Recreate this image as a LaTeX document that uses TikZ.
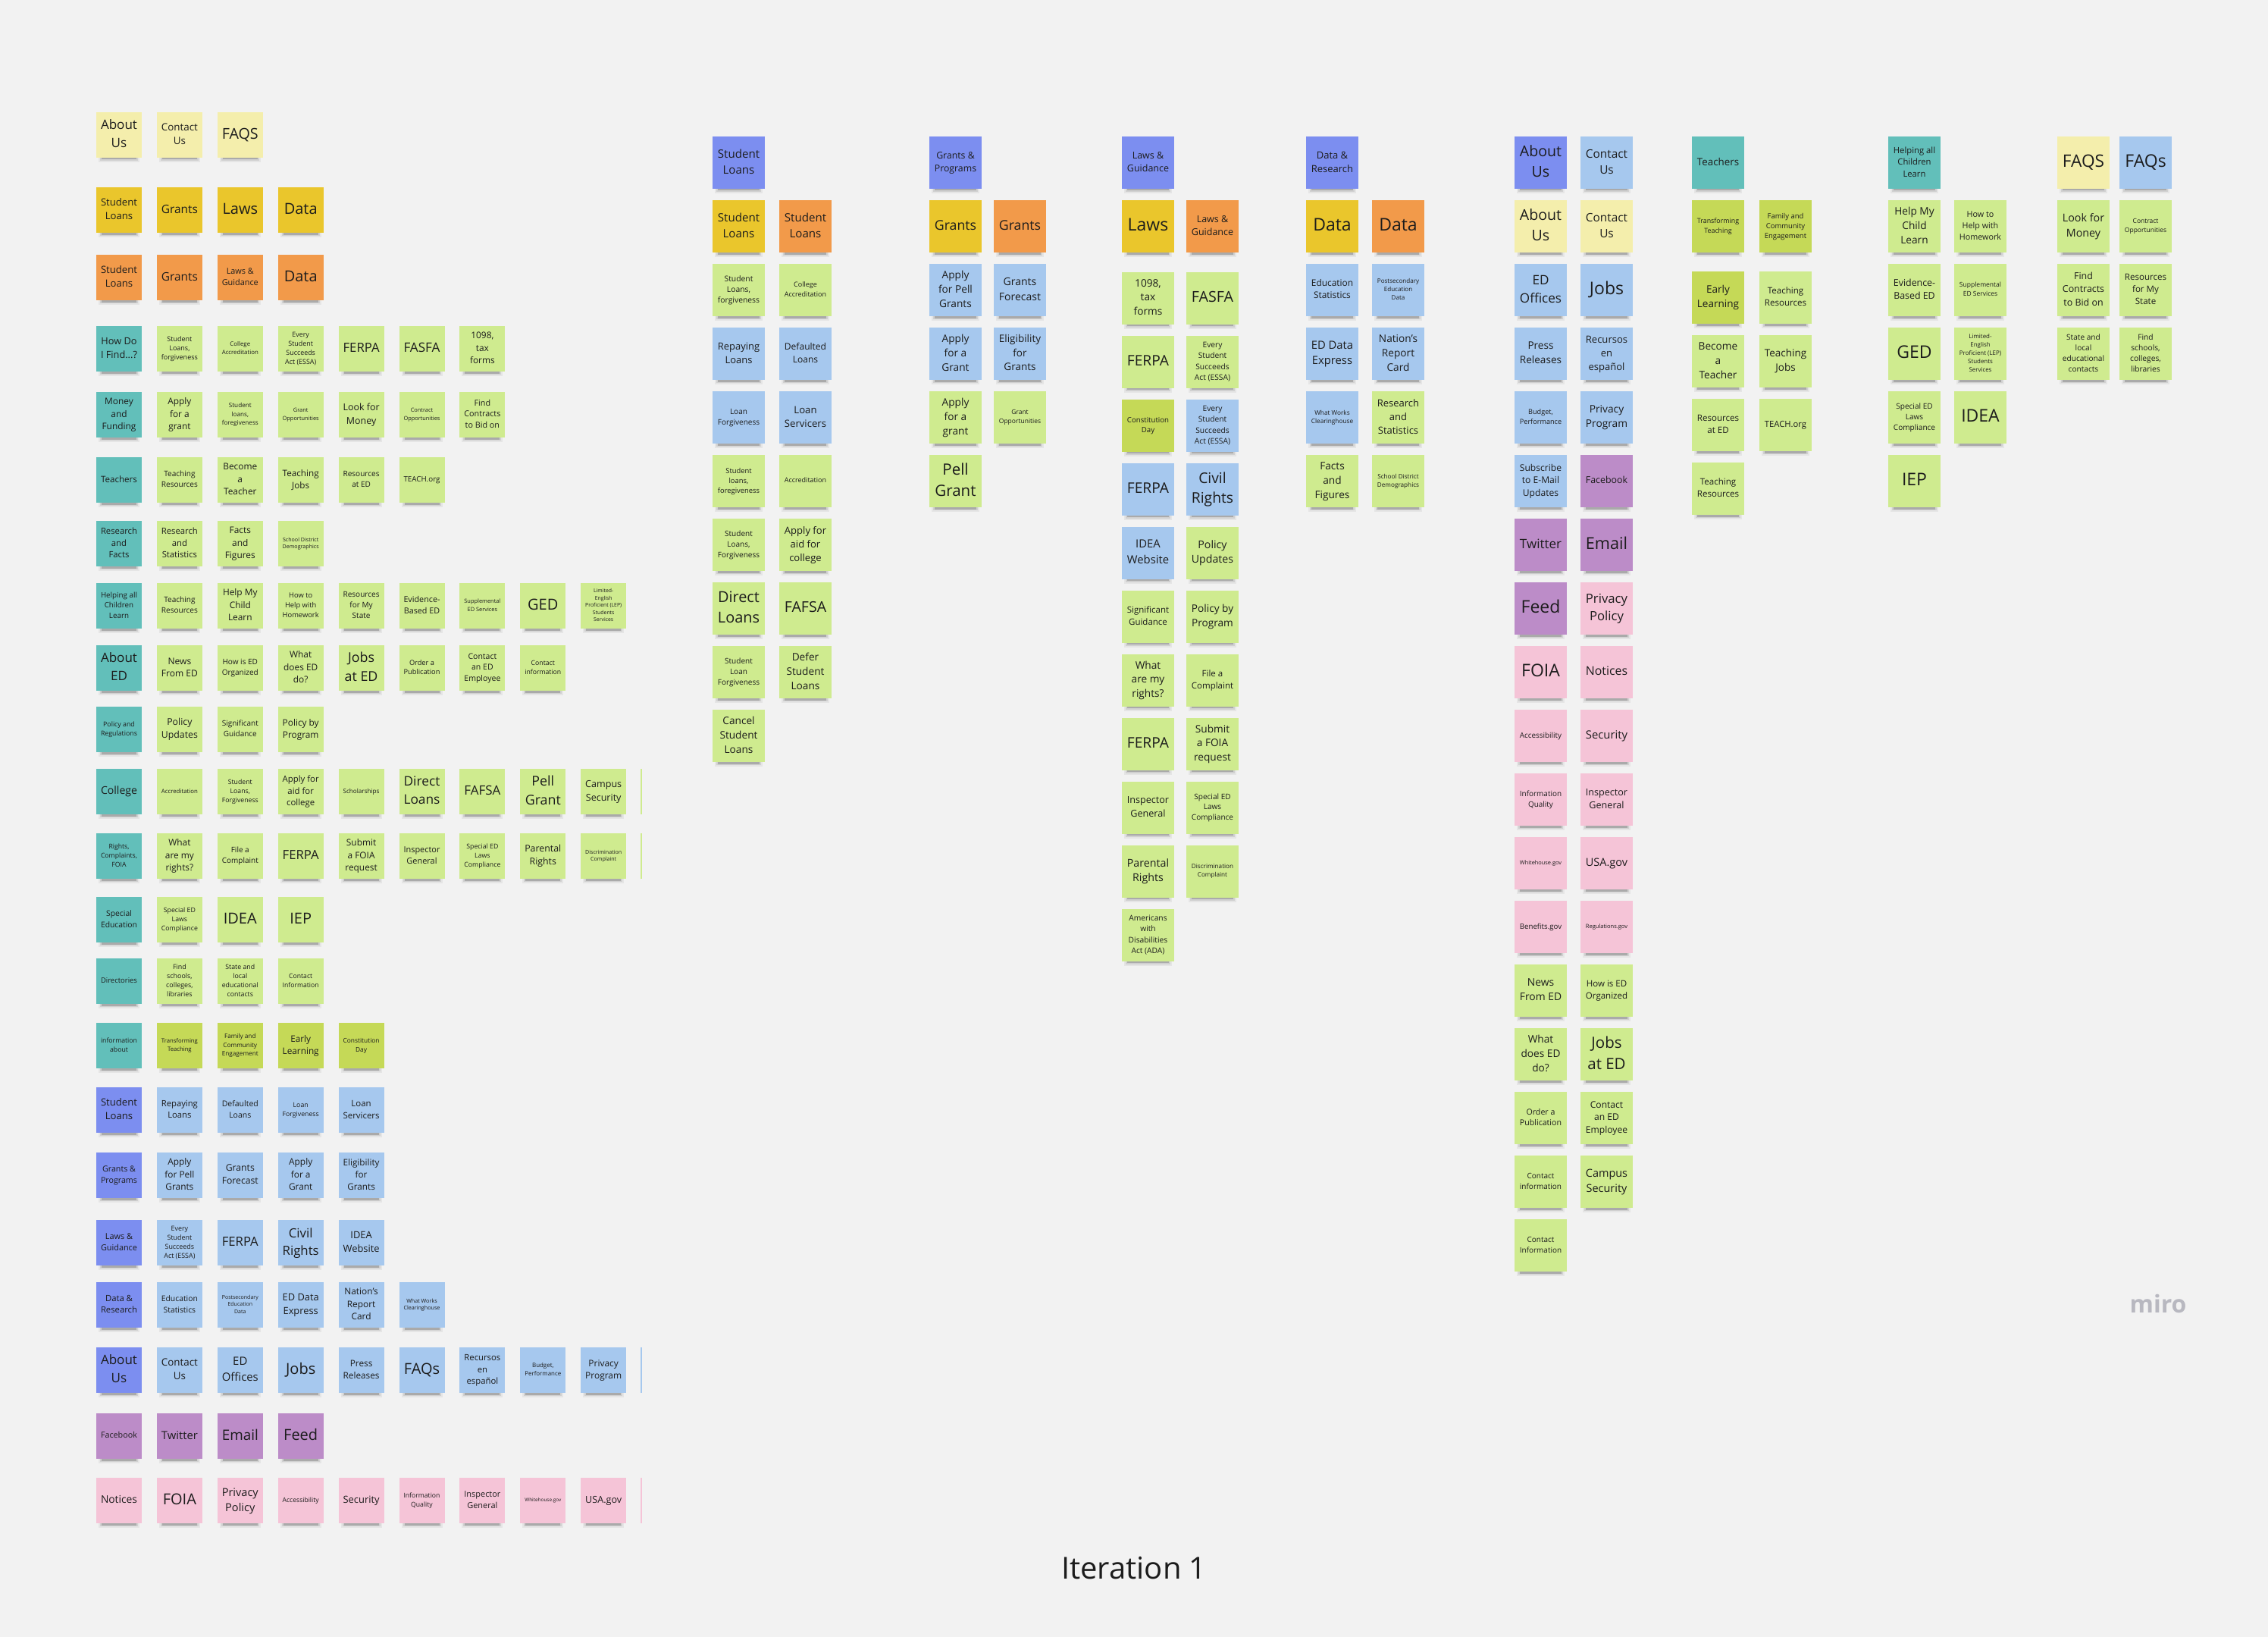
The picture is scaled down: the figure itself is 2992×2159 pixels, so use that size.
\documentclass[tikz,border=0pt]{standalone}
\usepackage{fontspec}
\setmainfont{Open Sans}
\usepackage{graphicx}
\definecolor{bgc}{HTML}{F2F2F2}
\definecolor{LY}{HTML}{F4EEAC}
\definecolor{GO}{HTML}{EAC62C}
\definecolor{OR}{HTML}{F29A4A}
\definecolor{TE}{HTML}{62BFBA}
\definecolor{LG}{HTML}{CFEB8F}
\definecolor{YG}{HTML}{C5D957}
\definecolor{LB}{HTML}{A6C8EE}
\definecolor{BP}{HTML}{7C8EF0}
\definecolor{PU}{HTML}{BC8CC8}
\definecolor{PK}{HTML}{F5C4D7}
\definecolor{ink}{HTML}{1C1C1C}
\definecolor{mirogray}{HTML}{B8B8C0}
\tikzset{
  stickbox/.style={rectangle, inner sep=0pt, outer sep=0pt, draw=none, text=ink},
  shadowA/.style={black, opacity=0.05},
  shadowB/.style={black, opacity=0.09},
  shadowC/.style={black, opacity=0.18},
  edgeline/.style={line width=2pt},
  captiontext/.style={text=ink, font=\fontsize{40pt}{48pt}\selectfont},
  logotext/.style={text=mirogray, font=\bfseries\fontsize{32pt}{38pt}\selectfont}
}
\newsavebox\stbox
\newlength\stw
\newlength\sth
\newcounter{stn}
% fitted text: size, text
\newcommand\stfit[2]{%
  \sbox\stbox{\fontsize{10pt}{13.8pt}\selectfont\begin{tabular}{@{}c@{}}#2\end{tabular}}%
  \setlength\stw{\wd\stbox}\ifdim\stw<1pt\setlength\stw{1pt}\fi
  \setlength\sth{\ht\stbox}\addtolength\sth{\dp\stbox}\ifdim\sth<1pt\setlength\sth{1pt}\fi
  \pgfmathsetmacro\stscale{min(0.8*#1/\stw, 0.82*#1/\sth, #1/30)}%
  \raisebox{1.5pt}{\scalebox{\stscale}{\usebox\stbox}}%
}
% x(left) y(top) size colour text
\newcommand\stick[5]{%
  \stepcounter{stn}%
  \fill[shadowA] ({#1+3},{#2+#3-4}) rectangle ({#1+#3-3},{#2+#3+6});
  \fill[shadowB] ({#1+5},{#2+#3-3}) rectangle ({#1+#3-5},{#2+#3+4});
  \fill[shadowC] ({#1+7},{#2+#3-2}) rectangle ({#1+#3-7},{#2+#3+2.5});
  \node[stickbox, fill=#4, minimum width=#3pt, minimum height=#3pt] (s\thestn) at ({#1+#3/2},{#2+#3/2}) {\stfit{#3}{#5}};
}
\newcommand\leftnote[4]{\stick{127+79.9*#1}{#2}{60}{#3}{#4}}
\newcommand\groupnote[4]{\stick{#1}{#2}{69}{#3}{#4}}
\begin{document}
\begin{tikzpicture}[x=1pt,y=-1pt]
\useasboundingbox (0,0) rectangle (2992,2159);
\fill[bgc] (0,0) rectangle (2992,2159);

% ================= left grid =================
\leftnote{0}{148}{LY}{About\\Us}
\leftnote{1}{148}{LY}{Contact\\Us}
\leftnote{2}{148}{LY}{FAQS}

\leftnote{0}{247}{GO}{Student\\Loans}
\leftnote{1}{247}{GO}{Grants}
\leftnote{2}{247}{GO}{Laws}
\leftnote{3}{247}{GO}{Data}

\leftnote{0}{336}{OR}{Student\\Loans}
\leftnote{1}{336}{OR}{Grants}
\leftnote{2}{336}{OR}{Laws \&\\Guidance}
\leftnote{3}{336}{OR}{Data}

\leftnote{0}{430}{TE}{How Do\\I Find...?}
\leftnote{1}{430}{LG}{Student\\Loans,\\forgiveness}
\leftnote{2}{430}{LG}{College\\Accreditation}
\leftnote{3}{430}{LG}{Every\\Student\\Succeeds\\Act (ESSA)}
\leftnote{4}{430}{LG}{FERPA}
\leftnote{5}{430}{LG}{FASFA}
\leftnote{6}{430}{LG}{1098,\\tax\\forms}

\leftnote{0}{517}{TE}{Money\\and\\Funding}
\leftnote{1}{517}{LG}{Apply\\for a\\grant}
\leftnote{2}{517}{LG}{Student\\loans,\\foregiveness}
\leftnote{3}{517}{LG}{Grant\\Opportunities}
\leftnote{4}{517}{LG}{Look for\\Money}
\leftnote{5}{517}{LG}{Contract\\Opportunities}
\leftnote{6}{517}{LG}{Find\\Contracts\\to Bid on}

\leftnote{0}{603}{TE}{Teachers}
\leftnote{1}{603}{LG}{Teaching\\Resources}
\leftnote{2}{603}{LG}{Become\\a\\Teacher}
\leftnote{3}{603}{LG}{Teaching\\Jobs}
\leftnote{4}{603}{LG}{Resources\\at ED}
\leftnote{5}{603}{LG}{TEACH.org}

\leftnote{0}{687}{TE}{Research\\and\\Facts}
\leftnote{1}{687}{LG}{Research\\and\\Statistics}
\leftnote{2}{687}{LG}{Facts\\and\\Figures}
\leftnote{3}{687}{LG}{School District\\Demographics}

\leftnote{0}{769}{TE}{Helping all\\Children\\Learn}
\leftnote{1}{769}{LG}{Teaching\\Resources}
\leftnote{2}{769}{LG}{Help My\\Child\\Learn}
\leftnote{3}{769}{LG}{How to\\Help with\\Homework}
\leftnote{4}{769}{LG}{Resources\\for My\\State}
\leftnote{5}{769}{LG}{Evidence-\\Based ED}
\leftnote{6}{769}{LG}{Supplemental\\ED Services}
\leftnote{7}{769}{LG}{GED}
\leftnote{8}{769}{LG}{Limited-\\English\\Proficient (LEP)\\Students\\Services}

\leftnote{0}{851}{TE}{About\\ED}
\leftnote{1}{851}{LG}{News\\From ED}
\leftnote{2}{851}{LG}{How is ED\\Organized}
\leftnote{3}{851}{LG}{What\\does ED\\do?}
\leftnote{4}{851}{LG}{Jobs\\at ED}
\leftnote{5}{851}{LG}{Order a\\Publication}
\leftnote{6}{851}{LG}{Contact\\an ED\\Employee}
\leftnote{7}{851}{LG}{Contact\\information}

\leftnote{0}{932}{TE}{Policy and\\Regulations}
\leftnote{1}{932}{LG}{Policy\\Updates}
\leftnote{2}{932}{LG}{Significant\\Guidance}
\leftnote{3}{932}{LG}{Policy by\\Program}

\leftnote{0}{1014}{TE}{College}
\leftnote{1}{1014}{LG}{Accreditation}
\leftnote{2}{1014}{LG}{Student\\Loans,\\Forgiveness}
\leftnote{3}{1014}{LG}{Apply for\\aid for\\college}
\leftnote{4}{1014}{LG}{Scholarships}
\leftnote{5}{1014}{LG}{Direct\\Loans}
\leftnote{6}{1014}{LG}{FAFSA}
\leftnote{7}{1014}{LG}{Pell\\Grant}
\leftnote{8}{1014}{LG}{Campus\\Security}

\leftnote{0}{1099}{TE}{Rights,\\Complaints,\\FOIA}
\leftnote{1}{1099}{LG}{What\\are my\\rights?}
\leftnote{2}{1099}{LG}{File a\\Complaint}
\leftnote{3}{1099}{LG}{FERPA}
\leftnote{4}{1099}{LG}{Submit\\a FOIA\\request}
\leftnote{5}{1099}{LG}{Inspector\\General}
\leftnote{6}{1099}{LG}{Special ED\\Laws\\Compliance}
\leftnote{7}{1099}{LG}{Parental\\Rights}
\leftnote{8}{1099}{LG}{Discrimination\\Complaint}

\leftnote{0}{1183}{TE}{Special\\Education}
\leftnote{1}{1183}{LG}{Special ED\\Laws\\Compliance}
\leftnote{2}{1183}{LG}{IDEA}
\leftnote{3}{1183}{LG}{IEP}

\leftnote{0}{1264}{TE}{Directories}
\leftnote{1}{1264}{LG}{Find\\schools,\\colleges,\\libraries}
\leftnote{2}{1264}{LG}{State and\\local\\educational\\contacts}
\leftnote{3}{1264}{LG}{Contact\\Information}

\leftnote{0}{1349}{TE}{information\\about}
\leftnote{1}{1349}{YG}{Transforming\\Teaching}
\leftnote{2}{1349}{YG}{Family and\\Community\\Engagement}
\leftnote{3}{1349}{YG}{Early\\Learning}
\leftnote{4}{1349}{YG}{Constitution\\Day}

\leftnote{0}{1434}{BP}{Student\\Loans}
\leftnote{1}{1434}{LB}{Repaying\\Loans}
\leftnote{2}{1434}{LB}{Defaulted\\Loans}
\leftnote{3}{1434}{LB}{Loan\\Forgiveness}
\leftnote{4}{1434}{LB}{Loan\\Servicers}

\leftnote{0}{1520}{BP}{Grants \&\\Programs}
\leftnote{1}{1520}{LB}{Apply\\for Pell\\Grants}
\leftnote{2}{1520}{LB}{Grants\\Forecast}
\leftnote{3}{1520}{LB}{Apply\\for a\\Grant}
\leftnote{4}{1520}{LB}{Eligibility\\for\\Grants}

\leftnote{0}{1609}{BP}{Laws \&\\Guidance}
\leftnote{1}{1609}{LB}{Every\\Student\\Succeeds\\Act (ESSA)}
\leftnote{2}{1609}{LB}{FERPA}
\leftnote{3}{1609}{LB}{Civil\\Rights}
\leftnote{4}{1609}{LB}{IDEA\\Website}

\leftnote{0}{1691}{BP}{Data \&\\Research}
\leftnote{1}{1691}{LB}{Education\\Statistics}
\leftnote{2}{1691}{LB}{Postsecondary\\Education\\Data}
\leftnote{3}{1691}{LB}{ED Data\\Express}
\leftnote{4}{1691}{LB}{Nation's\\Report\\Card}
\leftnote{5}{1691}{LB}{What Works\\Clearinghouse}

\leftnote{0}{1777}{BP}{About\\Us}
\leftnote{1}{1777}{LB}{Contact\\Us}
\leftnote{2}{1777}{LB}{ED\\Offices}
\leftnote{3}{1777}{LB}{Jobs}
\leftnote{4}{1777}{LB}{Press\\Releases}
\leftnote{5}{1777}{LB}{FAQs}
\leftnote{6}{1777}{LB}{Recursos\\en\\español}
\leftnote{7}{1777}{LB}{Budget,\\Performance}
\leftnote{8}{1777}{LB}{Privacy\\Program}

\leftnote{0}{1864}{PU}{Facebook}
\leftnote{1}{1864}{PU}{Twitter}
\leftnote{2}{1864}{PU}{Email}
\leftnote{3}{1864}{PU}{Feed}

\leftnote{0}{1949}{PK}{Notices}
\leftnote{1}{1949}{PK}{FOIA}
\leftnote{2}{1949}{PK}{Privacy\\Policy}
\leftnote{3}{1949}{PK}{Accessibility}
\leftnote{4}{1949}{PK}{Security}
\leftnote{5}{1949}{PK}{Information\\Quality}
\leftnote{6}{1949}{PK}{Inspector\\General}
\leftnote{7}{1949}{PK}{Whitehouse.gov}
\leftnote{8}{1949}{PK}{USA.gov}

% clipped edges of further notes
\draw[edgeline, LG] (846,1014) -- (846,1074);
\draw[edgeline, LG] (846,1099) -- (846,1159);
\draw[edgeline, LB] (846,1777) -- (846,1837);
\draw[edgeline, PK] (846,1949) -- (846,2009);

% ================= group A: Student Loans =================
\groupnote{940}{180}{BP}{Student\\Loans}
\groupnote{940}{264}{GO}{Student\\Loans}
\groupnote{1028}{264}{OR}{Student\\Loans}
\groupnote{940}{348}{LG}{Student\\Loans,\\forgiveness}
\groupnote{1028}{348}{LG}{College\\Accreditation}
\groupnote{940}{432}{LB}{Repaying\\Loans}
\groupnote{1028}{432}{LB}{Defaulted\\Loans}
\groupnote{940}{516}{LB}{Loan\\Forgiveness}
\groupnote{1028}{516}{LB}{Loan\\Servicers}
\groupnote{940}{600}{LG}{Student\\loans,\\foregiveness}
\groupnote{1028}{600}{LG}{Accreditation}
\groupnote{940}{684}{LG}{Student\\Loans,\\Forgiveness}
\groupnote{1028}{684}{LG}{Apply for\\aid for\\college}
\groupnote{940}{768}{LG}{Direct\\Loans}
\groupnote{1028}{768}{LG}{FAFSA}
\groupnote{940}{852}{LG}{Student\\Loan\\Forgiveness}
\groupnote{1028}{852}{LG}{Defer\\Student\\Loans}
\groupnote{940}{936}{LG}{Cancel\\Student\\Loans}

% ================= group B: Grants =================
\groupnote{1226}{180}{BP}{Grants \&\\Programs}
\groupnote{1226}{264}{GO}{Grants}
\groupnote{1311}{264}{OR}{Grants}
\groupnote{1226}{348}{LB}{Apply\\for Pell\\Grants}
\groupnote{1311}{348}{LB}{Grants\\Forecast}
\groupnote{1226}{432}{LB}{Apply\\for a\\Grant}
\groupnote{1311}{432}{LB}{Eligibility\\for\\Grants}
\groupnote{1226}{516}{LG}{Apply\\for a\\grant}
\groupnote{1311}{516}{LG}{Grant\\Opportunities}
\groupnote{1226}{600}{LG}{Pell\\Grant}

% ================= group C: Laws =================
\groupnote{1480}{180}{BP}{Laws \&\\Guidance}
\groupnote{1480}{264}{GO}{Laws}
\groupnote{1565}{264}{OR}{Laws \&\\Guidance}
\groupnote{1480}{358.6}{LG}{1098,\\tax\\forms}
\groupnote{1565}{358.6}{LG}{FASFA}
\groupnote{1480}{442.6}{LG}{FERPA}
\groupnote{1565}{442.6}{LG}{Every\\Student\\Succeeds\\Act (ESSA)}
\groupnote{1480}{526.6}{YG}{Constitution\\Day}
\groupnote{1565}{526.6}{LB}{Every\\Student\\Succeeds\\Act (ESSA)}
\groupnote{1480}{610.6}{LB}{FERPA}
\groupnote{1565}{610.6}{LB}{Civil\\Rights}
\groupnote{1480}{694.6}{LB}{IDEA\\Website}
\groupnote{1565}{694.6}{LG}{Policy\\Updates}
\groupnote{1480}{778.6}{LG}{Significant\\Guidance}
\groupnote{1565}{778.6}{LG}{Policy by\\Program}
\groupnote{1480}{862.6}{LG}{What\\are my\\rights?}
\groupnote{1565}{862.6}{LG}{File a\\Complaint}
\groupnote{1480}{946.6}{LG}{FERPA}
\groupnote{1565}{946.6}{LG}{Submit\\a FOIA\\request}
\groupnote{1480}{1030.6}{LG}{Inspector\\General}
\groupnote{1565}{1030.6}{LG}{Special ED\\Laws\\Compliance}
\groupnote{1480}{1114.6}{LG}{Parental\\Rights}
\groupnote{1565}{1114.6}{LG}{Discrimination\\Complaint}
\groupnote{1480}{1198.6}{LG}{Americans\\with\\Disabilities\\Act (ADA)}

% ================= group D: Data =================
\groupnote{1723}{180}{BP}{Data \&\\Research}
\groupnote{1723}{264}{GO}{Data}
\groupnote{1810}{264}{OR}{Data}
\groupnote{1723}{348}{LB}{Education\\Statistics}
\groupnote{1810}{348}{LB}{Postsecondary\\Education\\Data}
\groupnote{1723}{432}{LB}{ED Data\\Express}
\groupnote{1810}{432}{LB}{Nation's\\Report\\Card}
\groupnote{1723}{516}{LB}{What Works\\Clearinghouse}
\groupnote{1810}{516}{LG}{Research\\and\\Statistics}
\groupnote{1723}{600}{LG}{Facts\\and\\Figures}
\groupnote{1810}{600}{LG}{School District\\Demographics}

% ================= group E: About Us =================
\groupnote{1998}{180}{BP}{About\\Us}
\groupnote{2085}{180}{LB}{Contact\\Us}
\groupnote{1998}{264}{LY}{About\\Us}
\groupnote{2085}{264}{LY}{Contact\\Us}
\groupnote{1998}{348}{LB}{ED\\Offices}
\groupnote{2085}{348}{LB}{Jobs}
\groupnote{1998}{432}{LB}{Press\\Releases}
\groupnote{2085}{432}{LB}{Recursos\\en\\español}
\groupnote{1998}{516}{LB}{Budget,\\Performance}
\groupnote{2085}{516}{LB}{Privacy\\Program}
\groupnote{1998}{600}{LB}{Subscribe\\to E-Mail\\Updates}
\groupnote{2085}{600}{PU}{Facebook}
\groupnote{1998}{684}{PU}{Twitter}
\groupnote{2085}{684}{PU}{Email}
\groupnote{1998}{768}{PU}{Feed}
\groupnote{2085}{768}{PK}{Privacy\\Policy}
\groupnote{1998}{852}{PK}{FOIA}
\groupnote{2085}{852}{PK}{Notices}
\groupnote{1998}{936}{PK}{Accessibility}
\groupnote{2085}{936}{PK}{Security}
\groupnote{1998}{1020}{PK}{Information\\Quality}
\groupnote{2085}{1020}{PK}{Inspector\\General}
\groupnote{1998}{1104}{PK}{Whitehouse.gov}
\groupnote{2085}{1104}{PK}{USA.gov}
\groupnote{1998}{1188}{PK}{Benefits.gov}
\groupnote{2085}{1188}{PK}{Regulations.gov}
\groupnote{1998}{1272}{LG}{News\\From ED}
\groupnote{2085}{1272}{LG}{How is ED\\Organized}
\groupnote{1998}{1356}{LG}{What\\does ED\\do?}
\groupnote{2085}{1356}{LG}{Jobs\\at ED}
\groupnote{1998}{1440}{LG}{Order a\\Publication}
\groupnote{2085}{1440}{LG}{Contact\\an ED\\Employee}
\groupnote{1998}{1524}{LG}{Contact\\information}
\groupnote{2085}{1524}{LG}{Campus\\Security}
\groupnote{1998}{1608}{LG}{Contact\\Information}

% ================= group F: Teachers =================
\groupnote{2232}{180}{TE}{Teachers}
\groupnote{2232}{264}{YG}{Transforming\\Teaching}
\groupnote{2321}{264}{YG}{Family and\\Community\\Engagement}
\groupnote{2232}{358}{YG}{Early\\Learning}
\groupnote{2321}{358}{LG}{Teaching\\Resources}
\groupnote{2232}{442}{LG}{Become\\a\\Teacher}
\groupnote{2321}{442}{LG}{Teaching\\Jobs}
\groupnote{2232}{526}{LG}{Resources\\at ED}
\groupnote{2321}{526}{LG}{TEACH.org}
\groupnote{2232}{610}{LG}{Teaching\\Resources}

% ================= group G: Helping all Children Learn =================
\groupnote{2491}{180}{TE}{Helping all\\Children\\Learn}
\groupnote{2491}{264}{LG}{Help My\\Child\\Learn}
\groupnote{2578}{264}{LG}{How to\\Help with\\Homework}
\groupnote{2491}{348}{LG}{Evidence-\\Based ED}
\groupnote{2578}{348}{LG}{Supplemental\\ED Services}
\groupnote{2491}{432}{LG}{GED}
\groupnote{2578}{432}{LG}{Limited-\\English\\Proficient (LEP)\\Students\\Services}
\groupnote{2491}{516}{LG}{Special ED\\Laws\\Compliance}
\groupnote{2578}{516}{LG}{IDEA}
\groupnote{2491}{600}{LG}{IEP}

% ================= group H: FAQS =================
\groupnote{2714}{180}{LY}{FAQS}
\groupnote{2796}{180}{LB}{FAQs}
\groupnote{2714}{264}{LG}{Look for\\Money}
\groupnote{2796}{264}{LG}{Contract\\Opportunities}
\groupnote{2714}{348}{LG}{Find\\Contracts\\to Bid on}
\groupnote{2796}{348}{LG}{Resources\\for My\\State}
\groupnote{2714}{432}{LG}{State and\\local\\educational\\contacts}
\groupnote{2796}{432}{LG}{Find\\schools,\\colleges,\\libraries}

% ================= captions =================
\node[logotext] (logo) at (2847,1719) {miro};
\node[captiontext] (caption) at (1496,2068) {Iteration 1};
\end{tikzpicture}
\end{document}
